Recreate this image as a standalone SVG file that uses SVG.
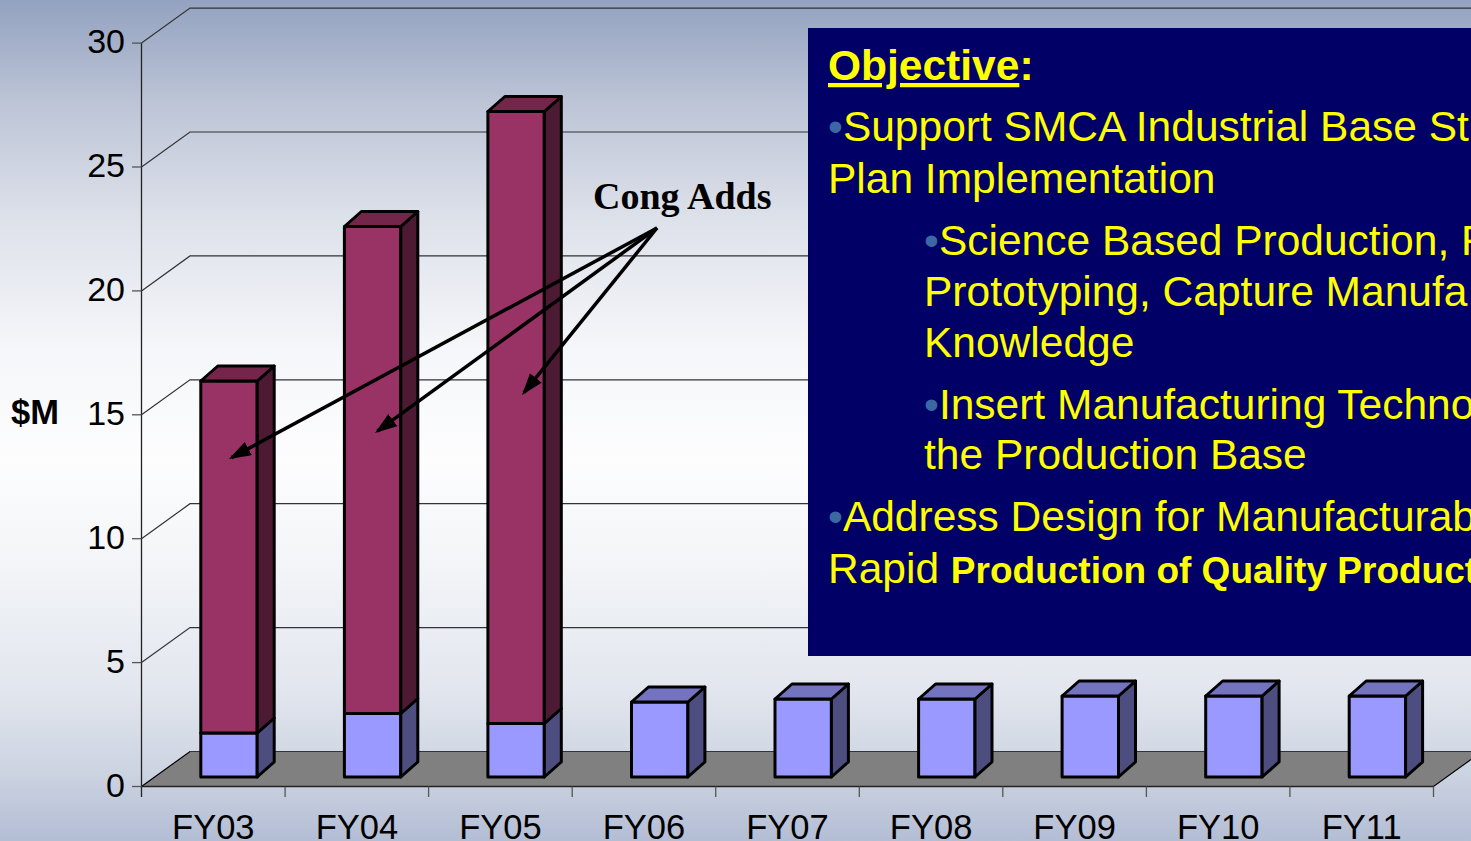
<svg xmlns="http://www.w3.org/2000/svg" width="1471" height="841" viewBox="0 0 1471 841">
<defs>
<linearGradient id="bg" x1="0" y1="0" x2="0" y2="1">
<stop offset="0" stop-color="#93a2c0"/>
<stop offset="0.12" stop-color="#bcc4d6"/>
<stop offset="0.26" stop-color="#dde1ea"/>
<stop offset="0.42" stop-color="#f6f7fa"/>
<stop offset="0.55" stop-color="#fdfdfe"/>
<stop offset="0.68" stop-color="#f2f4f7"/>
<stop offset="0.82" stop-color="#e2e6ee"/>
<stop offset="0.92" stop-color="#ccd3e1"/>
<stop offset="1" stop-color="#b3bdd4"/>
</linearGradient>
<marker id="ah" markerUnits="userSpaceOnUse" markerWidth="24" markerHeight="16" refX="19" refY="7.5" orient="auto">
<path d="M0,0 L22,7.5 L0,15 Z" fill="#000"/>
</marker>
<clipPath id="boxclip"><rect x="808" y="28" width="663" height="628"/></clipPath>
</defs>
<style>
.grid{stroke:#333;stroke-width:1.2;fill:none}
.tick{stroke:#555;stroke-width:1.3}
.ylab{font-family:"Liberation Sans",Arial,sans-serif;font-size:34px;fill:#000;text-anchor:end}
.xlab{font-family:"Liberation Sans",Arial,sans-serif;font-size:34.5px;fill:#000;text-anchor:middle}
.bar rect,.bar path{stroke:#000;stroke-width:3;stroke-linejoin:round}
.mf{fill:#993366}.ms{fill:#4d1a33}.mt{fill:#732649}
.bf{fill:#9999ff}.bs{fill:#4d4d80}.bt{fill:#7373bf}
.conn line{stroke:#000;stroke-width:3.5;marker-end:url(#ah)}
.obj{font-family:"Liberation Sans",Arial,sans-serif;font-size:42.5px;fill:#ffff00}
.bul{fill:#3b68a3}
</style>

<rect x="0" y="0" width="1471" height="841" fill="url(#bg)"/>

<g id="floor">
<polygon points="141.5,786.5 190,751.5 1482,751.5 1433.5,786.5" fill="#808080" stroke="#000" stroke-width="1.2"/>
</g>

<g id="gridlines">
<path class="grid" d="M141.5,662.6 L190,627.6 L1471,627.6"/>
<path class="grid" d="M141.5,538.7 L190,503.7 L1471,503.7"/>
<path class="grid" d="M141.5,414.8 L190,379.8 L1471,379.8"/>
<path class="grid" d="M141.5,290.9 L190,255.9 L1471,255.9"/>
<path class="grid" d="M141.5,167 L190,132 L1471,132"/>
<path class="grid" d="M141.5,43.1 L190,8.1 L1471,8.1"/>
<path class="grid" d="M190,751.5 L1471,751.5"/>
</g>

<g id="axes">
<line x1="141.5" y1="43.1" x2="141.5" y2="797" stroke="#222" stroke-width="1.3"/>
<line x1="141.5" y1="786.5" x2="1433.5" y2="786.5" stroke="#222" stroke-width="1.3"/>
<line class="tick" x1="132" y1="786.5" x2="141.5" y2="786.5"/>
<line class="tick" x1="132" y1="662.6" x2="141.5" y2="662.6"/>
<line class="tick" x1="132" y1="538.7" x2="141.5" y2="538.7"/>
<line class="tick" x1="132" y1="414.8" x2="141.5" y2="414.8"/>
<line class="tick" x1="132" y1="290.9" x2="141.5" y2="290.9"/>
<line class="tick" x1="132" y1="167" x2="141.5" y2="167"/>
<line class="tick" x1="132" y1="43.1" x2="141.5" y2="43.1"/>
<line class="tick" x1="285.1" y1="786.5" x2="285.1" y2="797"/>
<line class="tick" x1="428.6" y1="786.5" x2="428.6" y2="797"/>
<line class="tick" x1="572.2" y1="786.5" x2="572.2" y2="797"/>
<line class="tick" x1="715.7" y1="786.5" x2="715.7" y2="797"/>
<line class="tick" x1="859.3" y1="786.5" x2="859.3" y2="797"/>
<line class="tick" x1="1002.8" y1="786.5" x2="1002.8" y2="797"/>
<line class="tick" x1="1146.4" y1="786.5" x2="1146.4" y2="797"/>
<line class="tick" x1="1289.9" y1="786.5" x2="1289.9" y2="797"/>
<line class="tick" x1="1433.5" y1="786.5" x2="1433.5" y2="797"/>
<text class="ylab" x="125" y="796.5">0</text>
<text class="ylab" x="125" y="672.6">5</text>
<text class="ylab" x="125" y="548.7">10</text>
<text class="ylab" x="125" y="424.8">15</text>
<text class="ylab" x="125" y="300.9">20</text>
<text class="ylab" x="125" y="177">25</text>
<text class="ylab" x="125" y="53.1">30</text>
<text x="11" y="423.5" font-family="Liberation Sans, Arial, sans-serif" font-size="34.5" font-weight="bold" fill="#000">$M</text>
<text class="xlab" x="213.3" y="838.5">FY03</text>
<text class="xlab" x="356.9" y="838.5">FY04</text>
<text class="xlab" x="500.4" y="838.5">FY05</text>
<text class="xlab" x="644" y="838.5">FY06</text>
<text class="xlab" x="787.5" y="838.5">FY07</text>
<text class="xlab" x="931.1" y="838.5">FY08</text>
<text class="xlab" x="1074.6" y="838.5">FY09</text>
<text class="xlab" x="1218.2" y="838.5">FY10</text>
<text class="xlab" x="1361.7" y="838.5">FY11</text>
</g>

<g id="objective-box">
<rect x="808" y="28" width="670" height="628" fill="#000066"/>
<g clip-path="url(#boxclip)">
<text class="obj" x="828" y="80" font-weight="bold" text-decoration="underline">Objective</text>
<text class="obj" x="1019.5" y="80" font-weight="bold">:</text>
<text class="obj" x="828" y="141"><tspan class="bul">•</tspan>Support SMCA Industrial Base St</text>
<text class="obj" x="828" y="193">Plan Implementation</text>
<text class="obj" x="924" y="255"><tspan class="bul">•</tspan>Science Based Production, R</text>
<text class="obj" x="924" y="306">Prototyping, Capture Manufa</text>
<text class="obj" x="924" y="357">Knowledge</text>
<text class="obj" x="924" y="419"><tspan class="bul">•</tspan>Insert Manufacturing Techno</text>
<text class="obj" x="924" y="469">the Production Base</text>
<text class="obj" x="828" y="531"><tspan class="bul">•</tspan>Address Design for Manufacturab</text>
<text class="obj" x="828" y="583">Rapid <tspan font-weight="bold" font-size="37">Production of Quality Product</tspan></text>
</g>
</g>

<g id="bar-FY03" class="bar">
<rect class="bf" x="200.8" y="733" width="56.4" height="44"/>
<path class="bs" d="M257.2,733 L274.2,718 L274.2,762 L257.2,777Z"/>
<rect class="mf" x="200.8" y="381" width="56.4" height="352"/>
<path class="ms" d="M257.2,381 L274.2,366 L274.2,718 L257.2,733Z"/>
<path class="mt" d="M200.8,381 L217.8,366 L274.2,366 L257.2,381Z"/>
</g>
<g id="bar-FY04" class="bar">
<rect class="bf" x="344.4" y="713.5" width="56.4" height="63.5"/>
<path class="bs" d="M400.8,713.5 L417.8,698.5 L417.8,762 L400.8,777Z"/>
<rect class="mf" x="344.4" y="226.5" width="56.4" height="487"/>
<path class="ms" d="M400.8,226.5 L417.8,211.5 L417.8,698.5 L400.8,713.5Z"/>
<path class="mt" d="M344.4,226.5 L361.4,211.5 L417.8,211.5 L400.8,226.5Z"/>
</g>
<g id="bar-FY05" class="bar">
<rect class="bf" x="487.9" y="723.5" width="56.4" height="53.5"/>
<path class="bs" d="M544.3,723.5 L561.3,708.5 L561.3,762 L544.3,777Z"/>
<rect class="mf" x="487.9" y="111.5" width="56.4" height="612"/>
<path class="ms" d="M544.3,111.5 L561.3,96.5 L561.3,708.5 L544.3,723.5Z"/>
<path class="mt" d="M487.9,111.5 L504.9,96.5 L561.3,96.5 L544.3,111.5Z"/>
</g>
<g id="bar-FY06" class="bar">
<rect class="bf" x="631.5" y="702" width="56.4" height="75"/>
<path class="bs" d="M687.9,702 L704.9,687 L704.9,762 L687.9,777Z"/>
<path class="bt" d="M631.5,702 L648.5,687 L704.9,687 L687.9,702Z"/>
</g>
<g id="bar-FY07" class="bar">
<rect class="bf" x="775" y="699" width="56.4" height="78"/>
<path class="bs" d="M831.4,699 L848.4,684 L848.4,762 L831.4,777Z"/>
<path class="bt" d="M775,699 L792,684 L848.4,684 L831.4,699Z"/>
</g>
<g id="bar-FY08" class="bar">
<rect class="bf" x="918.6" y="699" width="56.4" height="78"/>
<path class="bs" d="M975,699 L992,684 L992,762 L975,777Z"/>
<path class="bt" d="M918.6,699 L935.6,684 L992,684 L975,699Z"/>
</g>
<g id="bar-FY09" class="bar">
<rect class="bf" x="1062.1" y="696" width="56.4" height="81"/>
<path class="bs" d="M1118.5,696 L1135.5,681 L1135.5,762 L1118.5,777Z"/>
<path class="bt" d="M1062.1,696 L1079.1,681 L1135.5,681 L1118.5,696Z"/>
</g>
<g id="bar-FY10" class="bar">
<rect class="bf" x="1205.7" y="696" width="56.4" height="81"/>
<path class="bs" d="M1262.1,696 L1279.1,681 L1279.1,762 L1262.1,777Z"/>
<path class="bt" d="M1205.7,696 L1222.7,681 L1279.1,681 L1262.1,696Z"/>
</g>
<g id="bar-FY11" class="bar">
<rect class="bf" x="1349.2" y="696" width="56.4" height="81"/>
<path class="bs" d="M1405.6,696 L1422.6,681 L1422.6,762 L1405.6,777Z"/>
<path class="bt" d="M1349.2,696 L1366.2,681 L1422.6,681 L1405.6,696Z"/>
</g>

<g id="cong-adds">
<text x="593" y="209" font-family="Liberation Serif, 'Times New Roman', serif" font-size="38" font-weight="bold" fill="#000">Cong Adds</text>
</g>

<g id="connectors" class="conn">
<line x1="657" y1="228" x2="231.6" y2="457.6"/>
<line x1="657" y1="228" x2="377.4" y2="431.2"/>
<line x1="657" y1="228" x2="523.9" y2="392.7"/>
</g>
</svg>
